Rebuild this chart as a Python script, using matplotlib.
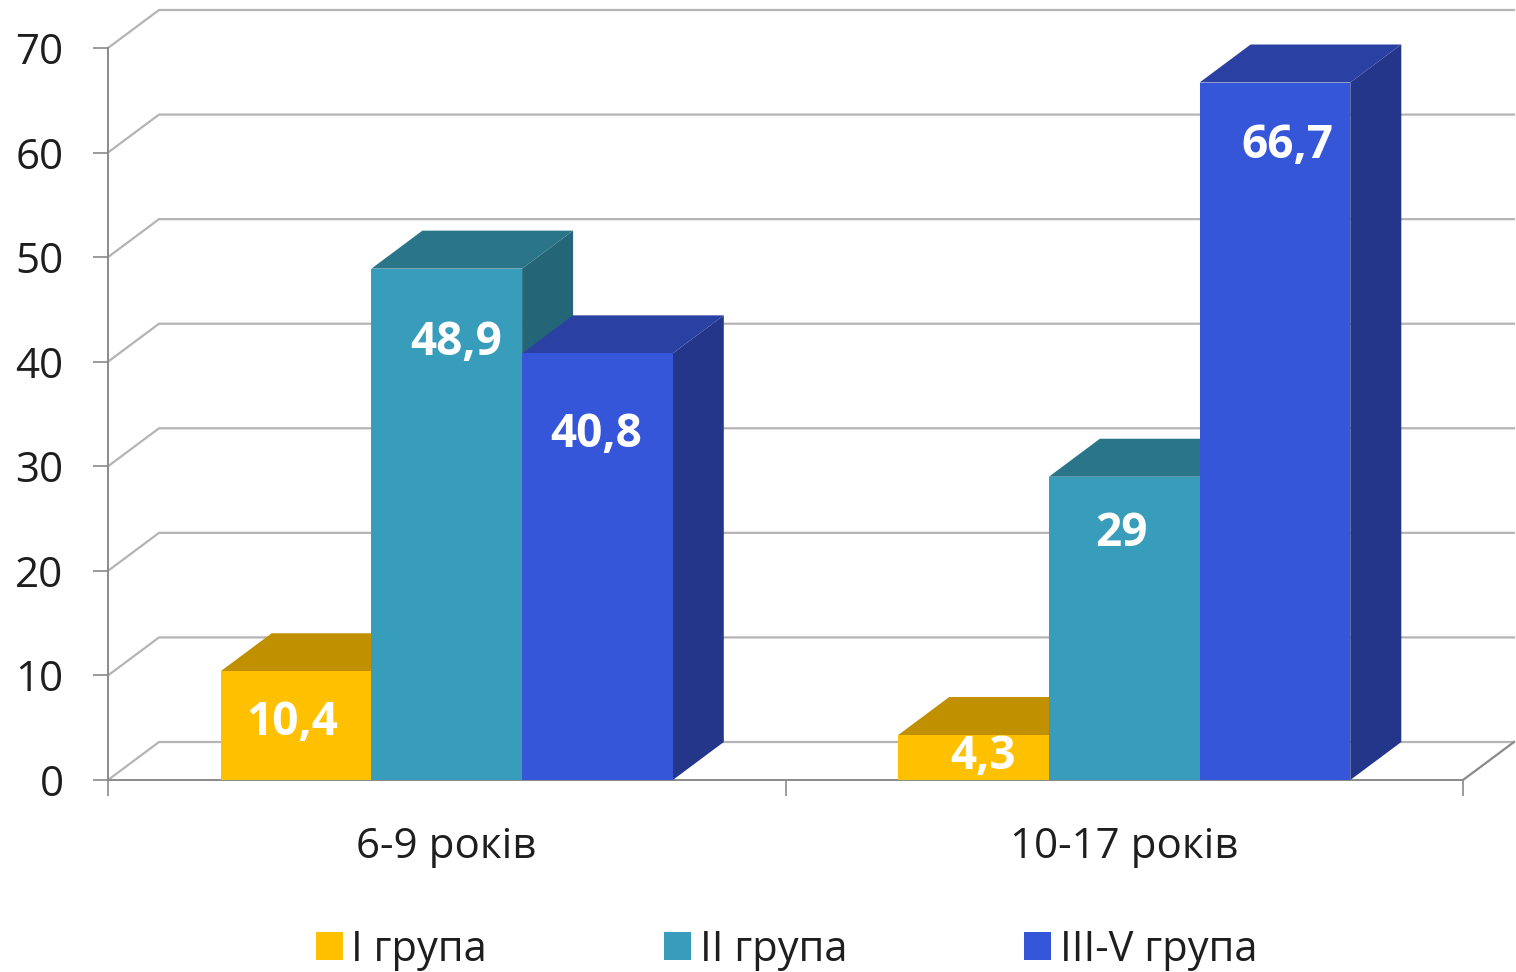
import matplotlib
matplotlib.use("Agg")
import matplotlib.pyplot as plt
from matplotlib.patches import Polygon, Patch
import numpy as np

plt.rcParams['font.family'] = ['Open Sans', 'DejaVu Sans']

categories = ["6-9 років", "10-17 років"]
series_names = ["I група", "II група", "III-V група"]
group_1 = [10.4, 4.3]
group_2 = [48.9, 29]
group_3 = [40.8, 66.7]
value_labels = [["10,4", "4,3"], ["48,9", "29"], ["40,8", "66,7"]]
y_ticks = [0, 10, 20, 30, 40, 50, 60, 70]

# hand placed labels in the original: offset from bar top centre, in pixels
label_dx = [[-4, 9], [9, -3], [-1, 12]]
label_dy = [[46, 16], [68, 51], [76, 57]]

front_colors = ["#FFC000", "#389CBB", "#3656D9"]
top_colors = ["#C09000", "#2B7589", "#2A40A2"]
side_colors = ["#A67C00", "#246577", "#23368A"]
grid_color = "#B4B4B4"
axis_color = "#8A8A8A"
text_color = "#1E1E1E"

W, H = 1516, 972
fig = plt.figure(figsize=(W / 100, H / 100), dpi=100)
# axes box = front plane of the 3d chart
left, right, bottom, top = 108, 1463, 780, 48
ax = fig.add_axes([left / W, 1 - bottom / H, (right - left) / W, (bottom - top) / H])
ax.set_xlim(0, 2)
ax.set_ylim(0, 70)
ax.patch.set_visible(False)

# depth of the 3d box, in data units
depth_x = 51 / ((right - left) / 2)
depth_y = 38 / ((bottom - top) / 70)
bar_w = 150.7 / ((right - left) / 2)

# back wall lines
for v in y_ticks:
    ax.plot([0, depth_x, 2 + depth_x], [v, v + depth_y, v + depth_y],
            color=grid_color, lw=1.6, clip_on=False, zorder=1, solid_joinstyle="miter")
ax.plot([2, 2 + depth_x], [0, depth_y], color=axis_color, lw=1.6, clip_on=False, zorder=1)

# bars
all_groups = [group_1, group_2, group_3]
z = 3
for c in range(len(categories)):
    centre = c + 0.5
    for s, vals in enumerate(all_groups):
        x0 = centre + (s - 1.5) * bar_w
        x1 = x0 + bar_w
        v = vals[c]
        ax.add_patch(Polygon([(x1, 0), (x1 + depth_x, depth_y), (x1 + depth_x, v + depth_y), (x1, v)],
                             fc=side_colors[s], ec="none", clip_on=False, zorder=z))
        ax.add_patch(Polygon([(x0, v), (x0 + depth_x, v + depth_y), (x1 + depth_x, v + depth_y), (x1, v)],
                             fc=top_colors[s], ec="none", clip_on=False, zorder=z))
        ax.bar(x0, v, width=bar_w, align="edge", color=front_colors[s], zorder=z + 1, clip_on=False)
        z += 2

for s, vals in enumerate(all_groups):
    for c, v in enumerate(vals):
        xc = c + 0.5 + (s - 1) * bar_w
        ax.annotate(value_labels[s][c], (xc, v), textcoords="offset points",
                    xytext=(label_dx[s][c] * 0.72, -label_dy[s][c] * 0.72),
                    color="white", fontsize=33, fontweight="bold",
                    ha="center", va="center_baseline", zorder=50)

ax.set_xticks([0, 1, 2])
ax.set_xticklabels([])
ax.set_xticks([0.5, 1.5], categories, minor=True)
ax.tick_params(axis="x", which="major", length=11.5, width=1.2, color=axis_color)
ax.tick_params(axis="x", which="minor", length=0, pad=33, labelsize=30.3, labelcolor=text_color)
ax.set_yticks(y_ticks)
ax.tick_params(axis="y", length=11, width=1.2, color=axis_color, pad=21, labelsize=30.3, labelcolor=text_color)
for name in ["top", "right"]:
    ax.spines[name].set_visible(False)
for name in ["left", "bottom"]:
    ax.spines[name].set_color(axis_color)
    ax.spines[name].set_linewidth(1.4)

handles = [Patch(fc=col, ec="none", label=n) for col, n in zip(front_colors, series_names)]
fig.legend(handles=handles, loc="center", bbox_to_anchor=(786.5 / W, 1 - 950 / H), ncol=3, frameon=False,
           fontsize=30, labelcolor=text_color, handlelength=0.65, handleheight=0.65,
           handletextpad=0.2, columnspacing=4.25, borderpad=0, borderaxespad=0)

fig.savefig("out.png", dpi=100)
